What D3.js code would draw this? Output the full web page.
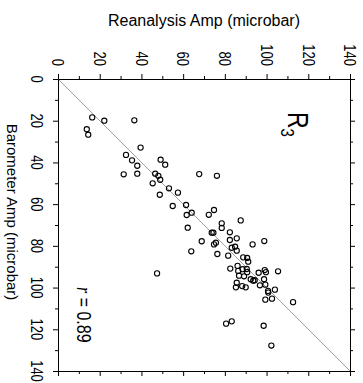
<!DOCTYPE html>
<html>
<head>
<meta charset="utf-8">
<script src="https://cdn.jsdelivr.net/npm/d3@7"></script>
<style>
  body { margin: 0; background: #fff; }
  text { font-family: "Liberation Sans", Arial, Helvetica, sans-serif; fill: #000; }
</style>
</head>
<body>
<svg id="chart"></svg>
<script>
// values (microbar)
const reanalysis = [16.4, 22.2, 36.6, 13.8, 14.5, 39.6, 32.6, 35.5, 38.0, 49.2, 51.4, 31.5, 38.0, 46.6, 48.1, 49.0,
  67.7, 45.4, 53.2, 48.8, 57.5, 55.0, 61.4, 76.2, 61.7, 64.1, 72.3, 74.8, 62.2, 78.5, 78.5, 87.6, 73.7, 74.5,
  68.9, 74.8, 75.7, 63.9, 76.4, 82.4, 82.4, 85.7, 93.3, 98.9, 83.3, 84.9, 85.7, 81.6, 88.8, 90.7, 91.2, 82.6,
  86.1, 86.4, 88.5, 90.5, 90.7, 86.8, 89.2, 96.2, 99.1, 99.7, 105.5, 85.7, 85.3, 88.3, 90.0, 92.4, 93.6, 94.3,
  96.8, 98.8, 99.4, 100.7, 100.8, 104.0, 99.4, 102.6, 112.7, 80.6, 83.3, 98.6, 102.3, 47.5];
const barometer = [18.4, 20.0, 19.8, 24.1, 26.7, 32.9, 36.4, 39.0, 41.6, 38.7, 41.1, 45.7, 45.4, 45.4, 46.4, 48.3,
  45.6, 50.0, 52.4, 55.5, 54.5, 60.9, 60.4, 46.4, 65.2, 64.1, 65.1, 62.8, 71.3, 69.2, 71.4, 67.8, 73.7, 73.7,
  77.8, 79.3, 78.5, 82.6, 83.9, 73.5, 77.2, 76.4, 79.3, 77.7, 80.9, 80.4, 82.3, 84.7, 85.5, 85.8, 87.6, 90.9,
  89.6, 92.0, 91.2, 91.1, 92.6, 94.3, 94.6, 92.9, 91.6, 92.6, 92.2, 97.7, 99.9, 99.3, 99.9, 96.0, 96.7, 96.5,
  98.9, 96.0, 98.6, 101.6, 102.4, 101.0, 105.8, 105.3, 107.0, 117.3, 116.2, 118.3, 127.8, 93.2];
const majorTicks = [0, 20, 40, 60, 80, 100, 120, 140];
const minorTicks = [10, 30, 50, 70, 90, 110, 130];
const corrLabel = "0.89";

const width = 363, height = 383;
const svg = d3.select("#chart").attr("width", width).attr("height", height);

// the figure is drawn turned a quarter turn clockwise
let x = d3.scaleLinear().domain([0, 140]).range([58, 350]),
  y = d3.scaleLinear().domain([0, 140]).range([79, 371]);
const stretch = 1.25; // rotated glyphs look stretched sideways

// 1:1 line
svg.append("line")
  .attr("x1", x(0)).attr("y1", y(0))
  .attr("x2", x(140)).attr("y2", y(140))
  .attr("stroke", "#a0a0a0").attr("stroke-width", 1);

// axes, ticks pointing outwards, labels drawn separately
function addAxis(axisFn, scale, tx, ty, ticks, size) {
  let g = svg.append("g").attr("transform", "translate(" + tx + "," + ty + ")")
    .call(axisFn(scale).tickValues(ticks).tickSize(size).tickSizeOuter(0).tickFormat(""));
  g.selectAll("path, line").attr("stroke", "#000").attr("stroke-width", 1);
  return g;
}
[[d3.axisTop, x, 0, y(0)], [d3.axisBottom, x, 0, y(140)], [d3.axisLeft, y, x(0), 0], [d3.axisRight, y, x(140), 0]]
  .forEach((a) => {
    addAxis(a[0], a[1], a[2], a[3], majorTicks, 5);
    addAxis(a[0], a[1], a[2], a[3], minorTicks, 3).select(".domain").remove();
  });

// tick labels (rotated)
svg.append("g").selectAll("text").data(majorTicks).enter().append("text")
  .attr("transform", (d) => "translate(" + x(d) + ",66) rotate(90) scale(1," + stretch + ")")
  .attr("text-anchor", "end").attr("dy", "0.35em").attr("font-size", 13)
  .text((d) => d);
svg.append("g").selectAll("text").data(majorTicks).enter().append("text")
  .attr("transform", (d) => "translate(37," + y(d) + ") rotate(90) scale(1," + stretch + ")")
  .attr("text-anchor", "middle").attr("dy", "0.35em").attr("font-size", 13)
  .text((d) => d);

// titles
svg.append("text").attr("x", 204).attr("y", 26).attr("text-anchor", "middle")
  .attr("font-size", 16).text("Reanalysis Amp (microbar)");
svg.append("text").attr("transform", "translate(7,212) rotate(90)")
  .attr("text-anchor", "middle").attr("font-size", 15).text("Barometer Amp (microbar)");

// panel name
let lbl = svg.append("text").attr("transform", "translate(288,112) rotate(90) scale(1," + stretch + ")")
  .attr("font-size", 23);
lbl.append("tspan").text("R");
lbl.append("tspan").attr("font-size", 15).attr("dy", "0.35em").text("3");

// correlation
let rt = svg.append("text").attr("transform", "translate(77,287) rotate(90) scale(1," + stretch + ")")
  .attr("font-size", 16);
rt.append("tspan").attr("font-style", "italic")
  .style("font-family", "'Liberation Serif', 'Times New Roman', serif").text("r");
rt.append("tspan").text(" = " + corrLabel);

// points
svg.append("g").selectAll("circle").data(reanalysis).enter().append("circle")
  .attr("cx", (d) => x(d))
  .attr("cy", (d, i) => y(barometer[i]))
  .attr("r", 2.6)
  .attr("fill", "none").attr("stroke", "#000").attr("stroke-width", 1.1);
</script>
</body>
</html>
